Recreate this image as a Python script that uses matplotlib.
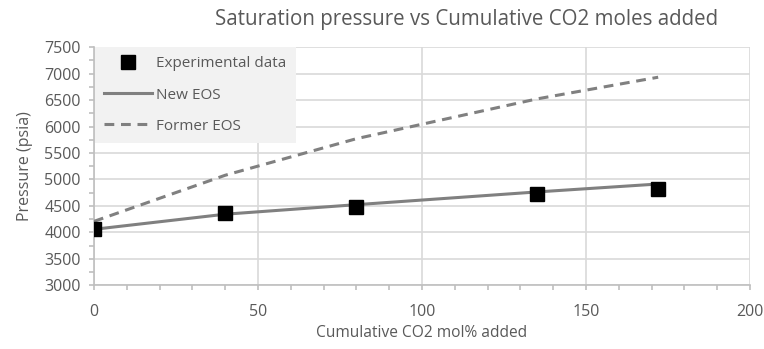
import matplotlib
matplotlib.use('Agg')
import matplotlib.pyplot as plt
from matplotlib.lines import Line2D
from matplotlib.ticker import MultipleLocator

plt.rcParams['font.family'] = ['Open Sans', 'DejaVu Sans']

# cumulative CO2 added (mol%) and saturation pressures (psia)
co2_added = [0, 40, 80, 135, 172]
p_measured = [4070, 4375, 4490, 4725, 4815]
p_new_eos = [4060, 4345, 4525, 4765, 4915]
p_former_eos = [4210, 5080, 5770, 6520, 6930]

txt = '#595959'
grid_c = '#d9d9d9'
line_c = '#808080'

fig = plt.figure(figsize=(7.64, 3.49), dpi=100)
ax = fig.add_axes([0.123, 0.182, 0.8587, 0.6833])

ax.plot(co2_added, p_former_eos, color=line_c, lw=2.2, ls=(0, (3.2, 2.2)), zorder=3)
ax.plot(co2_added, p_new_eos, color=line_c, lw=2.2, zorder=3)
ax.plot(co2_added, p_measured, ls='none', marker='s', ms=10, color='black', zorder=4)

ax.set_xlim(0, 200)
ax.set_ylim(3000, 7500)
ax.xaxis.set_major_locator(MultipleLocator(50))
ax.xaxis.set_minor_locator(MultipleLocator(10))
ax.yaxis.set_major_locator(MultipleLocator(500))
ax.yaxis.set_minor_locator(MultipleLocator(250))

ax.grid(True, which='major', color=grid_c, lw=1.2)
ax.set_axisbelow(True)
for s in ['top', 'right']:
    ax.spines[s].set_visible(False)
for s in ['left', 'bottom']:
    ax.spines[s].set_color('#bfbfbf')
    ax.spines[s].set_linewidth(1.2)

ax.tick_params(which='both', colors='#bfbfbf', labelcolor=txt, labelsize=11.5,
               width=1.2, length=3.6)
ax.tick_params(axis='x', pad=10)
ax.tick_params(axis='y', pad=6)

ax.set_xlabel('Cumulative CO2 mol% added', color=txt, fontsize=11.2, labelpad=3)
ax.set_ylabel('Pressure (psia)', color=txt, fontsize=11.5, labelpad=8)
fig.text(0.611, 0.945, 'Saturation pressure vs Cumulative CO2 moles added',
         color=txt, fontsize=14.8, ha='center', va='center')

handles = [
    Line2D([], [], ls='none', marker='s', ms=10, color='black'),
    Line2D([], [], color=line_c, lw=2.2),
    Line2D([], [], color=line_c, lw=2.2, ls=(0, (3.2, 2.2))),
]
leg = ax.legend(handles, ['Experimental data', 'New EOS', 'Former EOS'],
                loc='upper left', bbox_to_anchor=(0.0015, 1.0), borderaxespad=0,
                frameon=True, fancybox=False, facecolor='#f2f2f2', edgecolor='none',
                framealpha=1, fontsize=11, labelcolor=txt, handlelength=3.1,
                handletextpad=0.3, labelspacing=1.05, borderpad=0.62)
leg.set_zorder(5)

fig.savefig('out.png', dpi=100)
